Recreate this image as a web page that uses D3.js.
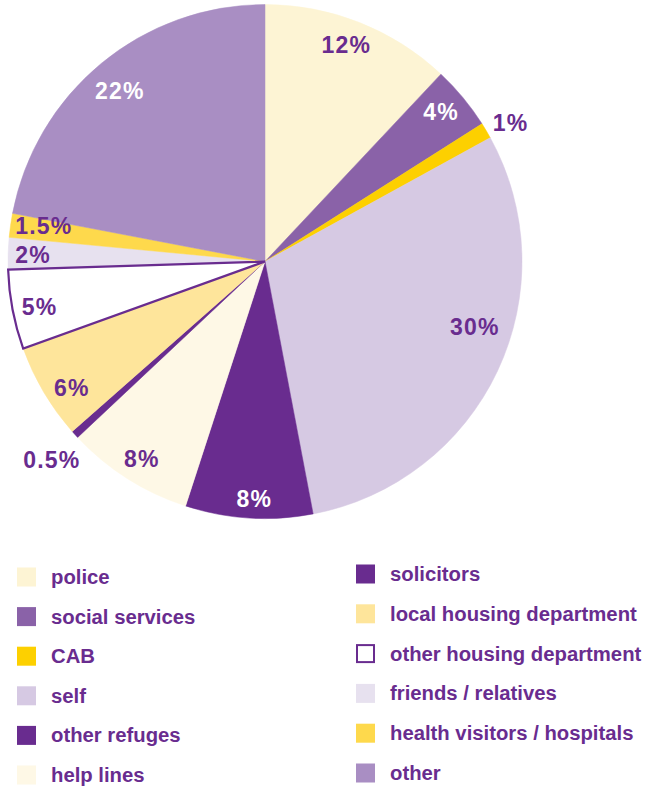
<!DOCTYPE html>
<html>
<head>
<meta charset="utf-8">
<script src="https://cdn.jsdelivr.net/npm/d3@7"></script>
<style>
  html, body { margin: 0; padding: 0; background: #ffffff; }
  svg { display: block; }
</style>
</head>
<body>
<svg id="chart" width="647" height="787"></svg>
<script>
const categories = ["police", "social services", "CAB", "self", "other refuges", "help lines",
  "solicitors", "local housing department", "other housing department", "friends / relatives",
  "health visitors / hospitals", "other"];
const values = [12, 4, 1, 30, 8, 8, 0.5, 6, 5, 2, 1.5, 22];
const valueLabels = ["12%", "4%", "1%", "30%", "8%", "8%", "0.5%", "6%", "5%", "2%", "1.5%", "22%"];
const colors = ["#fdf4d4", "#8a62a8", "#fdd000", "#d6c9e3", "#692c8f", "#fef8e6",
  "#692c8f", "#fee59b", "#ffffff", "#e7e1ef", "#fed94c", "#a98ec3"];
const labelColors = ["#692c8f", "#ffffff", "#692c8f", "#692c8f", "#ffffff", "#692c8f",
  "#692c8f", "#692c8f", "#692c8f", "#692c8f", "#692c8f", "#ffffff"];
const outlined = [false, false, false, false, false, false, false, false, true, false, false, false];
// label layout: distance from centre (px) and angular nudge (degrees)
const labelRadius = [231, 231, 282, 220, 238, 233, 291, 231, 230, 232, 224, 224];
const labelNudge = [-1, -0.7, 1.2, -7.8, -1, -0.5, -0.6, -2.6, -0.6, -0.3, 0.9, -0.8];

const purple = "#692c8f";
const svg = d3.select("#chart");
const cx = 265, cy = 261.5, R = 257;

const data = categories.map((c, i) => ({ name: c, value: values[i], i }));
const pie = d3.pie().value(d => d.value).sort(null);
const arcs = pie(data);
const arc = d3.arc().innerRadius(0).outerRadius(R);

const g = svg.append("g").attr("transform", `translate(${cx},${cy})`);

g.selectAll("path.slice")
  .data(arcs.filter(a => !outlined[a.data.i]))
  .join("path")
  .attr("class", "slice")
  .attr("d", arc)
  .attr("fill", d => colors[d.data.i])
  .attr("stroke", d => colors[d.data.i])
  .attr("stroke-width", 0.5);

g.selectAll("path.outlined")
  .data(arcs.filter(a => outlined[a.data.i]))
  .join("path")
  .attr("class", "outlined")
  .attr("d", arc)
  .attr("fill", d => colors[d.data.i])
  .attr("stroke", purple)
  .attr("stroke-width", 2.2)
  .attr("stroke-linejoin", "miter");

g.selectAll("text.pct")
  .data(arcs)
  .join("text")
  .attr("class", "pct")
  .each(function(d) {
    const i = d.data.i;
    const a = (d.startAngle + d.endAngle) / 2 + labelNudge[i] * Math.PI / 180;
    const r = labelRadius[i];
    d3.select(this)
      .attr("x", r * Math.sin(a))
      .attr("y", -r * Math.cos(a));
  })
  .attr("text-anchor", "middle")
  .attr("dominant-baseline", "central")
  .attr("font-family", "'Liberation Sans', Arial, sans-serif")
  .attr("font-weight", "bold")
  .attr("font-size", 23)
  .attr("letter-spacing", 1.2)
  .attr("fill", d => labelColors[d.data.i])
  .text(d => valueLabels[d.data.i]);

// legend
const half = Math.ceil(categories.length / 2);
const colX = d3.scaleOrdinal().domain([0, 1]).range([17, 356]);
const rowY = [d3.scaleLinear().domain([0, 5]).range([577, 775]),
              d3.scaleLinear().domain([0, 5]).range([574, 773])];

const leg = svg.append("g");
data.forEach((d, k) => {
  const col = k < half ? 0 : 1;
  const row = k % half;
  const x = colX(col), y = rowY[col](row);
  const item = leg.append("g").attr("transform", `translate(${x},${y})`);
  if (outlined[k]) {
    item.append("rect").attr("x", 1).attr("y", -8.5).attr("width", 17).attr("height", 17)
      .attr("fill", "#fff").attr("stroke", purple).attr("stroke-width", 2);
  } else {
    item.append("rect").attr("x", 0).attr("y", -9.5).attr("width", 19).attr("height", 19)
      .attr("fill", colors[k]);
  }
  item.append("text")
    .attr("x", 34)
    .attr("y", 0)
    .attr("dominant-baseline", "central")
    .attr("font-family", "'Liberation Sans', Arial, sans-serif")
    .attr("font-weight", "bold")
    .attr("font-size", 20.3)
    .attr("fill", purple)
    .text(d.name);
});
</script>
</body>
</html>
